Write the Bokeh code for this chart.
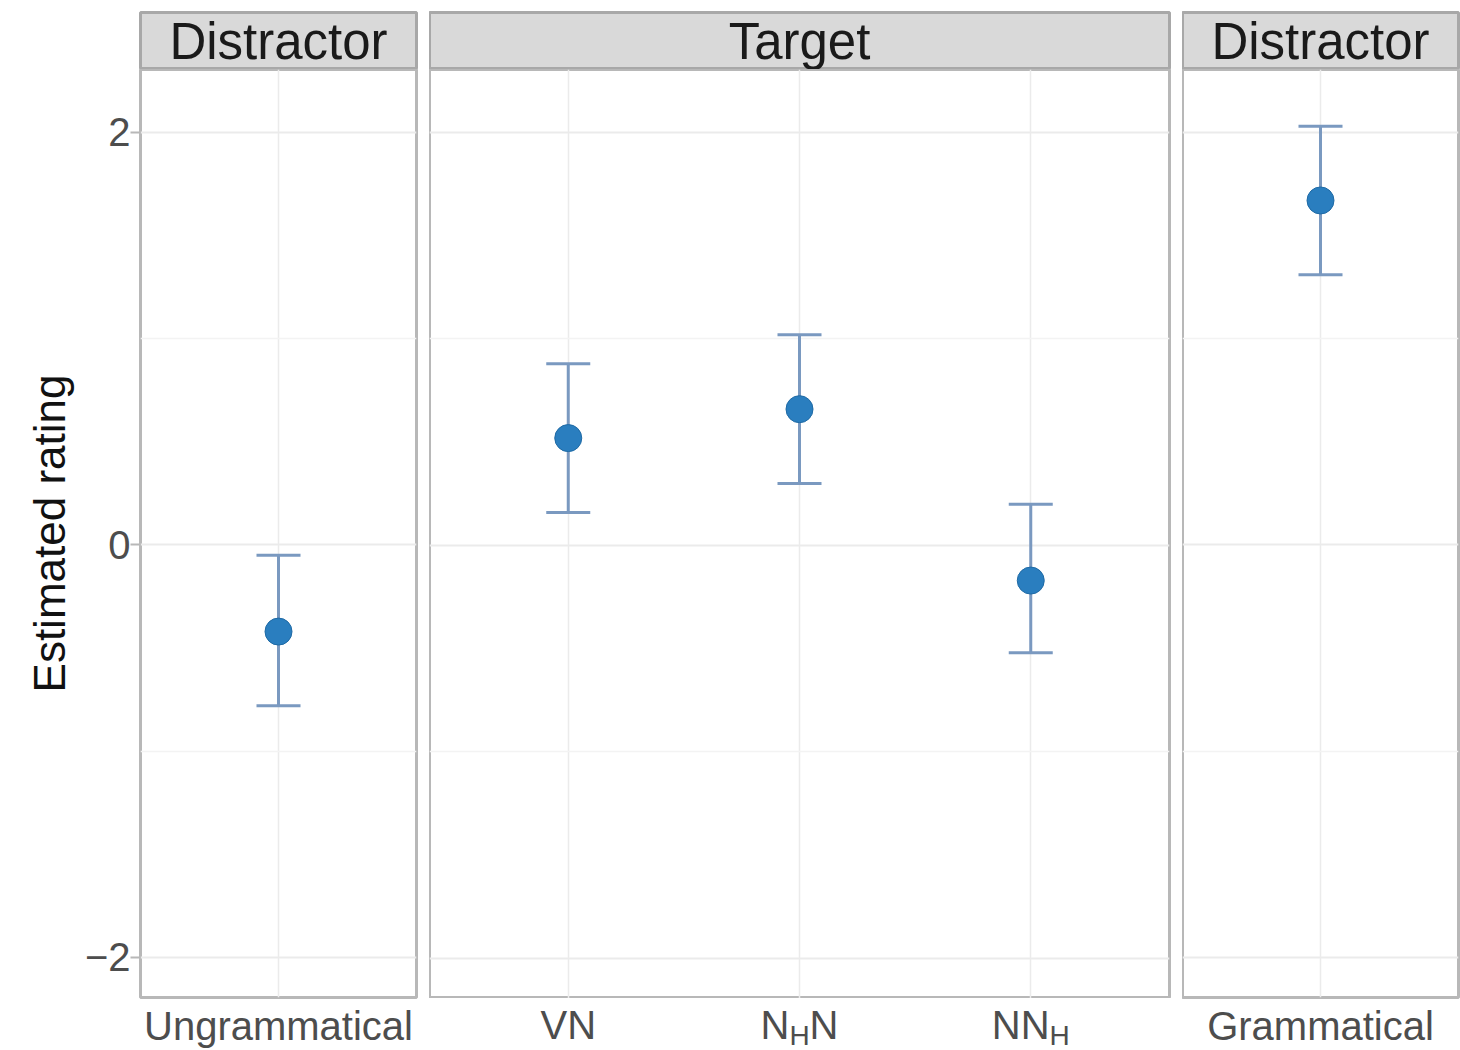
from bokeh.plotting import figure
from bokeh.models import (ColumnDataSource, Range1d, FixedTicker,
                          Whisker, TeeHead)
from bokeh.layouts import row, column
from bokeh.embed import file_html
from bokeh.resources import INLINE
from bokeh.core.properties import value

# ---------------- data ----------------
conditions = ["Ungrammatical", "VN", "NHN", "NNH", "Grammatical"]
panel_index = [0, 1, 1, 1, 2]
panel_titles = ["Distractor", "Target", "Distractor"]
estimate = [-0.42, 0.52, 0.66, -0.17, 1.67]
ci_lower = [-0.78, 0.16, 0.30, -0.52, 1.31]
ci_upper = [-0.05, 0.88, 1.02, 0.20, 2.03]
y_ticks = [-2, 0, 2]
y_minor_ticks = [-1, 1]
y_limits = (-2.194, 2.305)
y_title = "Estimated rating"
# tick labels that need a subscript: (text, is_subscript)
tick_label_parts = {
    "VN": [("VN", False)],
    "NHN": [("N", False), ("H", True), ("N", False)],
    "NNH": [("NN", False), ("H", True)],
}

# ---------------- style ----------------
FONT = "Liberation Sans"
TICK_PX = 40
SUB_PX = 28
STRIP_PX = 51
TITLE_PX = 44
POINT_COLOR = "#2a7ebf"
POINT_EDGE = "#1f6aa5"
BAR_COLOR = "#7a99c0"
GRID_MAJOR = "#ebebeb"
GRID_MINOR = "#f3f3f3"
BORDER = "#b8b8b8"
STRIP_FILL = "#d9d9d9"
STRIP_BORDER = "#a8a8a8"
TICK_TEXT = "#4d4d4d"

frame_widths = [276, 740, 276]
left_borders = [140, 0, 0]
right_borders = [13, 13, 2]
STRIP_TOP = 12
STRIP_H = 57
FRAME_H = 929
BOTTOM = 52
MAIN_Y = 26.5        # text anchor rows inside the label strip (px from its top)
SUB_Y = 36.5
X_PAD = 0.6          # discrete axis expansion, in category units

# advance widths (em) for Liberation Sans capitals used in labels
char_em = {"V": 0.667, "N": 0.722, "H": 0.722}


def text_width(t, px):
    return sum(char_em.get(c, 0.6) for c in t) * px


columns = []
for k, title in enumerate(panel_titles):
    idx = [i for i, pi in enumerate(panel_index) if pi == k]
    cats = [conditions[i] for i in idx]
    pos = list(range(1, len(cats) + 1))
    src = ColumnDataSource(dict(
        x=pos,
        y=[estimate[i] for i in idx],
        lower=[ci_lower[i] for i in idx],
        upper=[ci_upper[i] for i in idx],
    ))
    w = left_borders[k] + frame_widths[k] + right_borders[k]
    rich_labels = any(c in tick_label_parts for c in cats)

    # ----- strip -----
    s = figure(width=w, height=STRIP_TOP + STRIP_H,
               x_range=Range1d(0, 1), y_range=Range1d(0, 1),
               min_border_left=left_borders[k], min_border_right=right_borders[k],
               min_border_top=STRIP_TOP, min_border_bottom=0,
               toolbar_location=None, output_backend="svg")
    s.axis.visible = False
    s.grid.visible = False
    s.background_fill_color = STRIP_FILL
    s.border_fill_color = "white"
    s.outline_line_color = STRIP_BORDER
    s.outline_line_width = 3
    s.text(x=[0.5], y=[0.5], text=[title], text_align="center",
           text_baseline="middle", text_font=value(FONT),
           text_font_size=f"{STRIP_PX}px", text_color="#1a1a1a")

    # ----- panel -----
    bottom = 0 if rich_labels else BOTTOM
    x_range = Range1d(1 - X_PAD, len(cats) + X_PAD)
    p = figure(width=w, height=FRAME_H + bottom,
               x_range=x_range, y_range=Range1d(*y_limits),
               min_border_left=left_borders[k], min_border_right=right_borders[k],
               min_border_top=0, min_border_bottom=bottom,
               toolbar_location=None, output_backend="svg")
    p.background_fill_color = "white"
    p.border_fill_color = "white"
    p.outline_line_color = BORDER
    p.outline_line_width = 3

    yticker = FixedTicker(ticks=y_ticks, minor_ticks=y_minor_ticks)
    p.yaxis.ticker = yticker
    p.ygrid.ticker = yticker
    p.ygrid.grid_line_color = GRID_MAJOR
    p.ygrid.grid_line_width = 2
    p.ygrid.minor_grid_line_color = GRID_MINOR
    p.ygrid.minor_grid_line_width = 1.5

    xticker = FixedTicker(ticks=pos, minor_ticks=[])
    p.xaxis.ticker = xticker
    p.xgrid.ticker = xticker
    p.xgrid.grid_line_color = GRID_MAJOR
    p.xgrid.grid_line_width = 1.5

    yax = p.yaxis[0]
    if k == 0:
        yax.axis_line_color = None
        yax.major_tick_line_color = BORDER
        yax.major_tick_line_width = 2
        yax.major_tick_out = 10
        yax.major_tick_in = 0
        yax.minor_tick_line_color = None
        yax.major_label_standoff = 0
        yax.major_label_text_font = FONT
        yax.major_label_text_font_size = f"{TICK_PX}px"
        yax.major_label_text_color = TICK_TEXT
        yax.major_label_overrides = {t: str(t).replace("-", "\u2212") for t in y_ticks}
        yax.axis_label = y_title
        yax.axis_label_text_font = FONT
        yax.axis_label_text_font_size = f"{TITLE_PX}px"
        yax.axis_label_text_font_style = "normal"
        yax.axis_label_text_color = "#111111"
        yax.axis_label_standoff = 8
    else:
        yax.visible = False

    xax = p.xaxis[0]
    xax.axis_line_color = None
    xax.major_tick_line_color = None
    xax.minor_tick_line_color = None
    xax.major_label_standoff = 0
    xax.major_label_text_font = FONT
    xax.major_label_text_font_size = f"{TICK_PX}px"
    xax.major_label_text_color = TICK_TEXT
    xax.major_label_overrides = {x: c for x, c in zip(pos, cats)}

    p.add_layout(Whisker(
        base="x", upper="upper", lower="lower", source=src,
        dimension="height", line_color=BAR_COLOR, line_width=3,
        upper_head=TeeHead(size=44, line_color=BAR_COLOR, line_width=3),
        lower_head=TeeHead(size=44, line_color=BAR_COLOR, line_width=3)))
    p.scatter("x", "y", source=src, size=27, fill_color=POINT_COLOR,
              line_color=POINT_EDGE, line_width=1)

    children = [s, p]

    # ----- subscripted tick labels: a label row sharing the panel's x scale -----
    if rich_labels:
        xax.visible = False
        lab = dict(main=dict(x=[], dx=[], t=[], y=[]), sub=dict(x=[], dx=[], t=[], y=[]))
        for x, c in zip(pos, cats):
            parts = tick_label_parts.get(c, [(c, False)])
            widths = [text_width(t, SUB_PX if sub else TICK_PX) for t, sub in parts]
            off = -sum(widths) / 2
            for (t, sub), wd in zip(parts, widths):
                d = lab["sub" if sub else "main"]
                d["x"].append(x)
                d["dx"].append(off)
                d["t"].append(t)
                d["y"].append(SUB_Y if sub else MAIN_Y)
                off += wd
        lf = figure(width=w, height=BOTTOM, x_range=x_range,
                    y_range=Range1d(BOTTOM, 0),
                    min_border_left=left_borders[k], min_border_right=right_borders[k],
                    min_border_top=0, min_border_bottom=0,
                    toolbar_location=None, output_backend="svg")
        lf.axis.visible = False
        lf.grid.visible = False
        lf.outline_line_color = None
        lf.background_fill_color = "white"
        lf.border_fill_color = "white"
        for key, size in (("main", TICK_PX), ("sub", SUB_PX)):
            d = lab[key]
            lf.text(x="x", y="y", text="t", x_offset="dx",
                    source=ColumnDataSource(d),
                    text_align="left", text_baseline="alphabetic",
                    text_font=value(FONT), text_font_size=f"{size}px",
                    text_color=TICK_TEXT)
        children.append(lf)

    columns.append(column(*children, spacing=0))

layout = row(*columns, spacing=0)

open("out.html", "w").write(file_html(layout, INLINE))
